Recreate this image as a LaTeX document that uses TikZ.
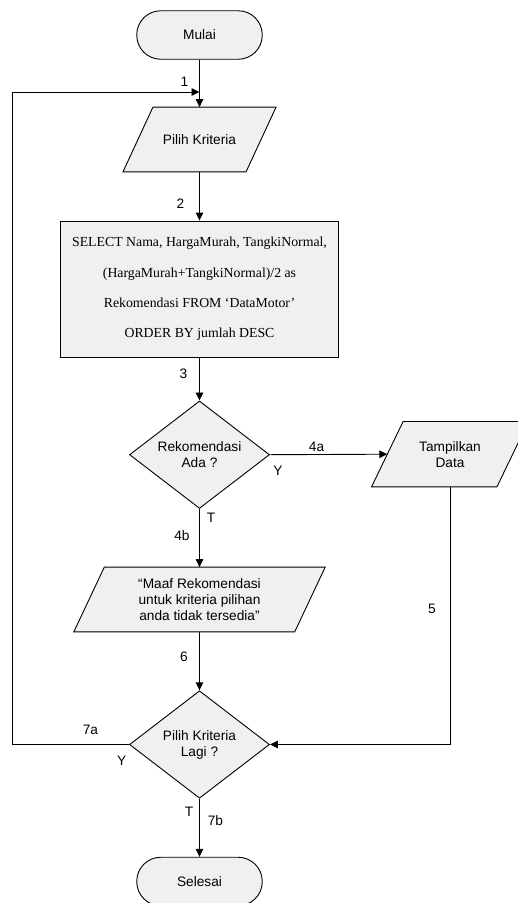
\documentclass[tikz,border=0pt]{standalone}
\usepackage{fontspec}
\setmainfont{Liberation Sans}
\newfontfamily\tnr{Liberation Serif}
\usetikzlibrary{shapes.geometric,arrows.meta,backgrounds}
\definecolor{shapefill}{RGB}{240,240,240}
\definecolor{ink}{RGB}{0,0,0}
\tikzset{
  base/.style={draw=ink, fill=shapefill, line width=0.9pt, font=\fontsize{13.7}{16}\selectfont, align=center, inner sep=0pt},
  term/.style={base, rectangle, rounded corners=24pt, minimum width=125.5pt, minimum height=48.5pt},
  proc/.style={base, rectangle},
  decis/.style={base, diamond, aspect=1.3, minimum width=140pt, minimum height=107.5pt},
  iotext/.style={rectangle, inner sep=0pt, align=center, font=\fontsize{13.7}{16}\selectfont},
  para/.style={draw=ink, fill=shapefill, line width=0.9pt},
  flow/.style={draw=ink, line width=0.9pt, -{Triangle[length=8pt,width=7.5pt]}},
  conn/.style={draw=ink, line width=0.9pt},
  lbl/.style={font=\fontsize{13.7}{16}\selectfont, inner sep=0pt},
}
\newcommand\paral[2]{%
  \begin{scope}[on background layer]
    \draw[para] ([xshift=#2]#1.north west) -- (#1.north east) -- ([xshift=-#2]#1.south east) -- (#1.south west) -- cycle;
  \end{scope}}
\begin{document}
\begin{tikzpicture}[x=1pt,y=-1pt]
\useasboundingbox (0,0) rectangle (518,903);
\clip (0,0) rectangle (518,903);

% nodes
\node[term] (mulai) at (199.5,35) {Mulai};
\node[iotext, minimum width=152.7pt, minimum height=64.4pt] (pk) at (199.5,139.5) {Pilih Kriteria};
\paral{pk}{30pt}
\node[proc, minimum width=278pt, minimum height=136pt, font=\tnr\fontsize{13.8}{30.3}\selectfont] (sel) at (199.5,289)
  {SELECT Nama, HargaMurah, TangkiNormal,\\(HargaMurah+TangkiNormal)/2 as\\Rekomendasi FROM ‘DataMotor’\\ORDER BY jumlah DESC};
\node[decis] (d1) at (199.5,454.7) {Rekomendasi\\Ada ?};
\node[iotext, minimum width=156.6pt, minimum height=65pt] (td) at (450,454.2) {Tampilkan\\Data};
\paral{td}{31.6pt}
\node[iotext, minimum width=251pt, minimum height=64.4pt] (mf) at (199.5,599.5) {“Maaf Rekomendasi\\untuk kriteria pilihan\\anda tidak tersedia”};
\paral{mf}{30.5pt}
\node[decis] (d2) at (199.5,744.5) {Pilih Kriteria\\Lagi ?};
\node[term] (selesai) at (199.5,881.5) {Selesai};

% coordinates
\coordinate (lc) at (12,92);
\coordinate (j1) at (199.5,92);

% connectors
\draw[flow] (mulai.south) -- (pk.north);
\draw[flow] (d2.west) -| (lc) -- (j1);
\draw[flow] (pk.south) -- (sel.north);
\draw[flow] (sel.south) -- (d1.north);
\draw[flow] (d1.east) -- ([xshift=15.8pt]td.west);
\draw[flow] (d1.south) -- (mf.north);
\draw[flow] (mf.south) -- (d2.north);
\draw[flow] (td.south) |- (d2.east);
\draw[flow] (d2.south) -- (selesai.north);

% labels
\node[lbl] (l1) at (184.5,82) {1};
\node[lbl] (l2) at (180.5,204) {2};
\node[lbl] (l3) at (183.5,374) {3};
\node[lbl] (l4a) at (316.5,446.5) {4a};
\node[lbl] (y1) at (278,471) {Y};
\node[lbl] (t1) at (211,518) {T};
\node[lbl] (l4b) at (182,536) {4b};
\node[lbl] (l5) at (432,609) {5};
\node[lbl] (l6) at (184,656.5) {6};
\node[lbl] (l7a) at (90.5,730) {7a};
\node[lbl] (y2) at (121.7,761) {Y};
\node[lbl] (t2) at (189,812) {T};
\node[lbl] (l7b) at (215.5,820.5) {7b};
\end{tikzpicture}
\end{document}
